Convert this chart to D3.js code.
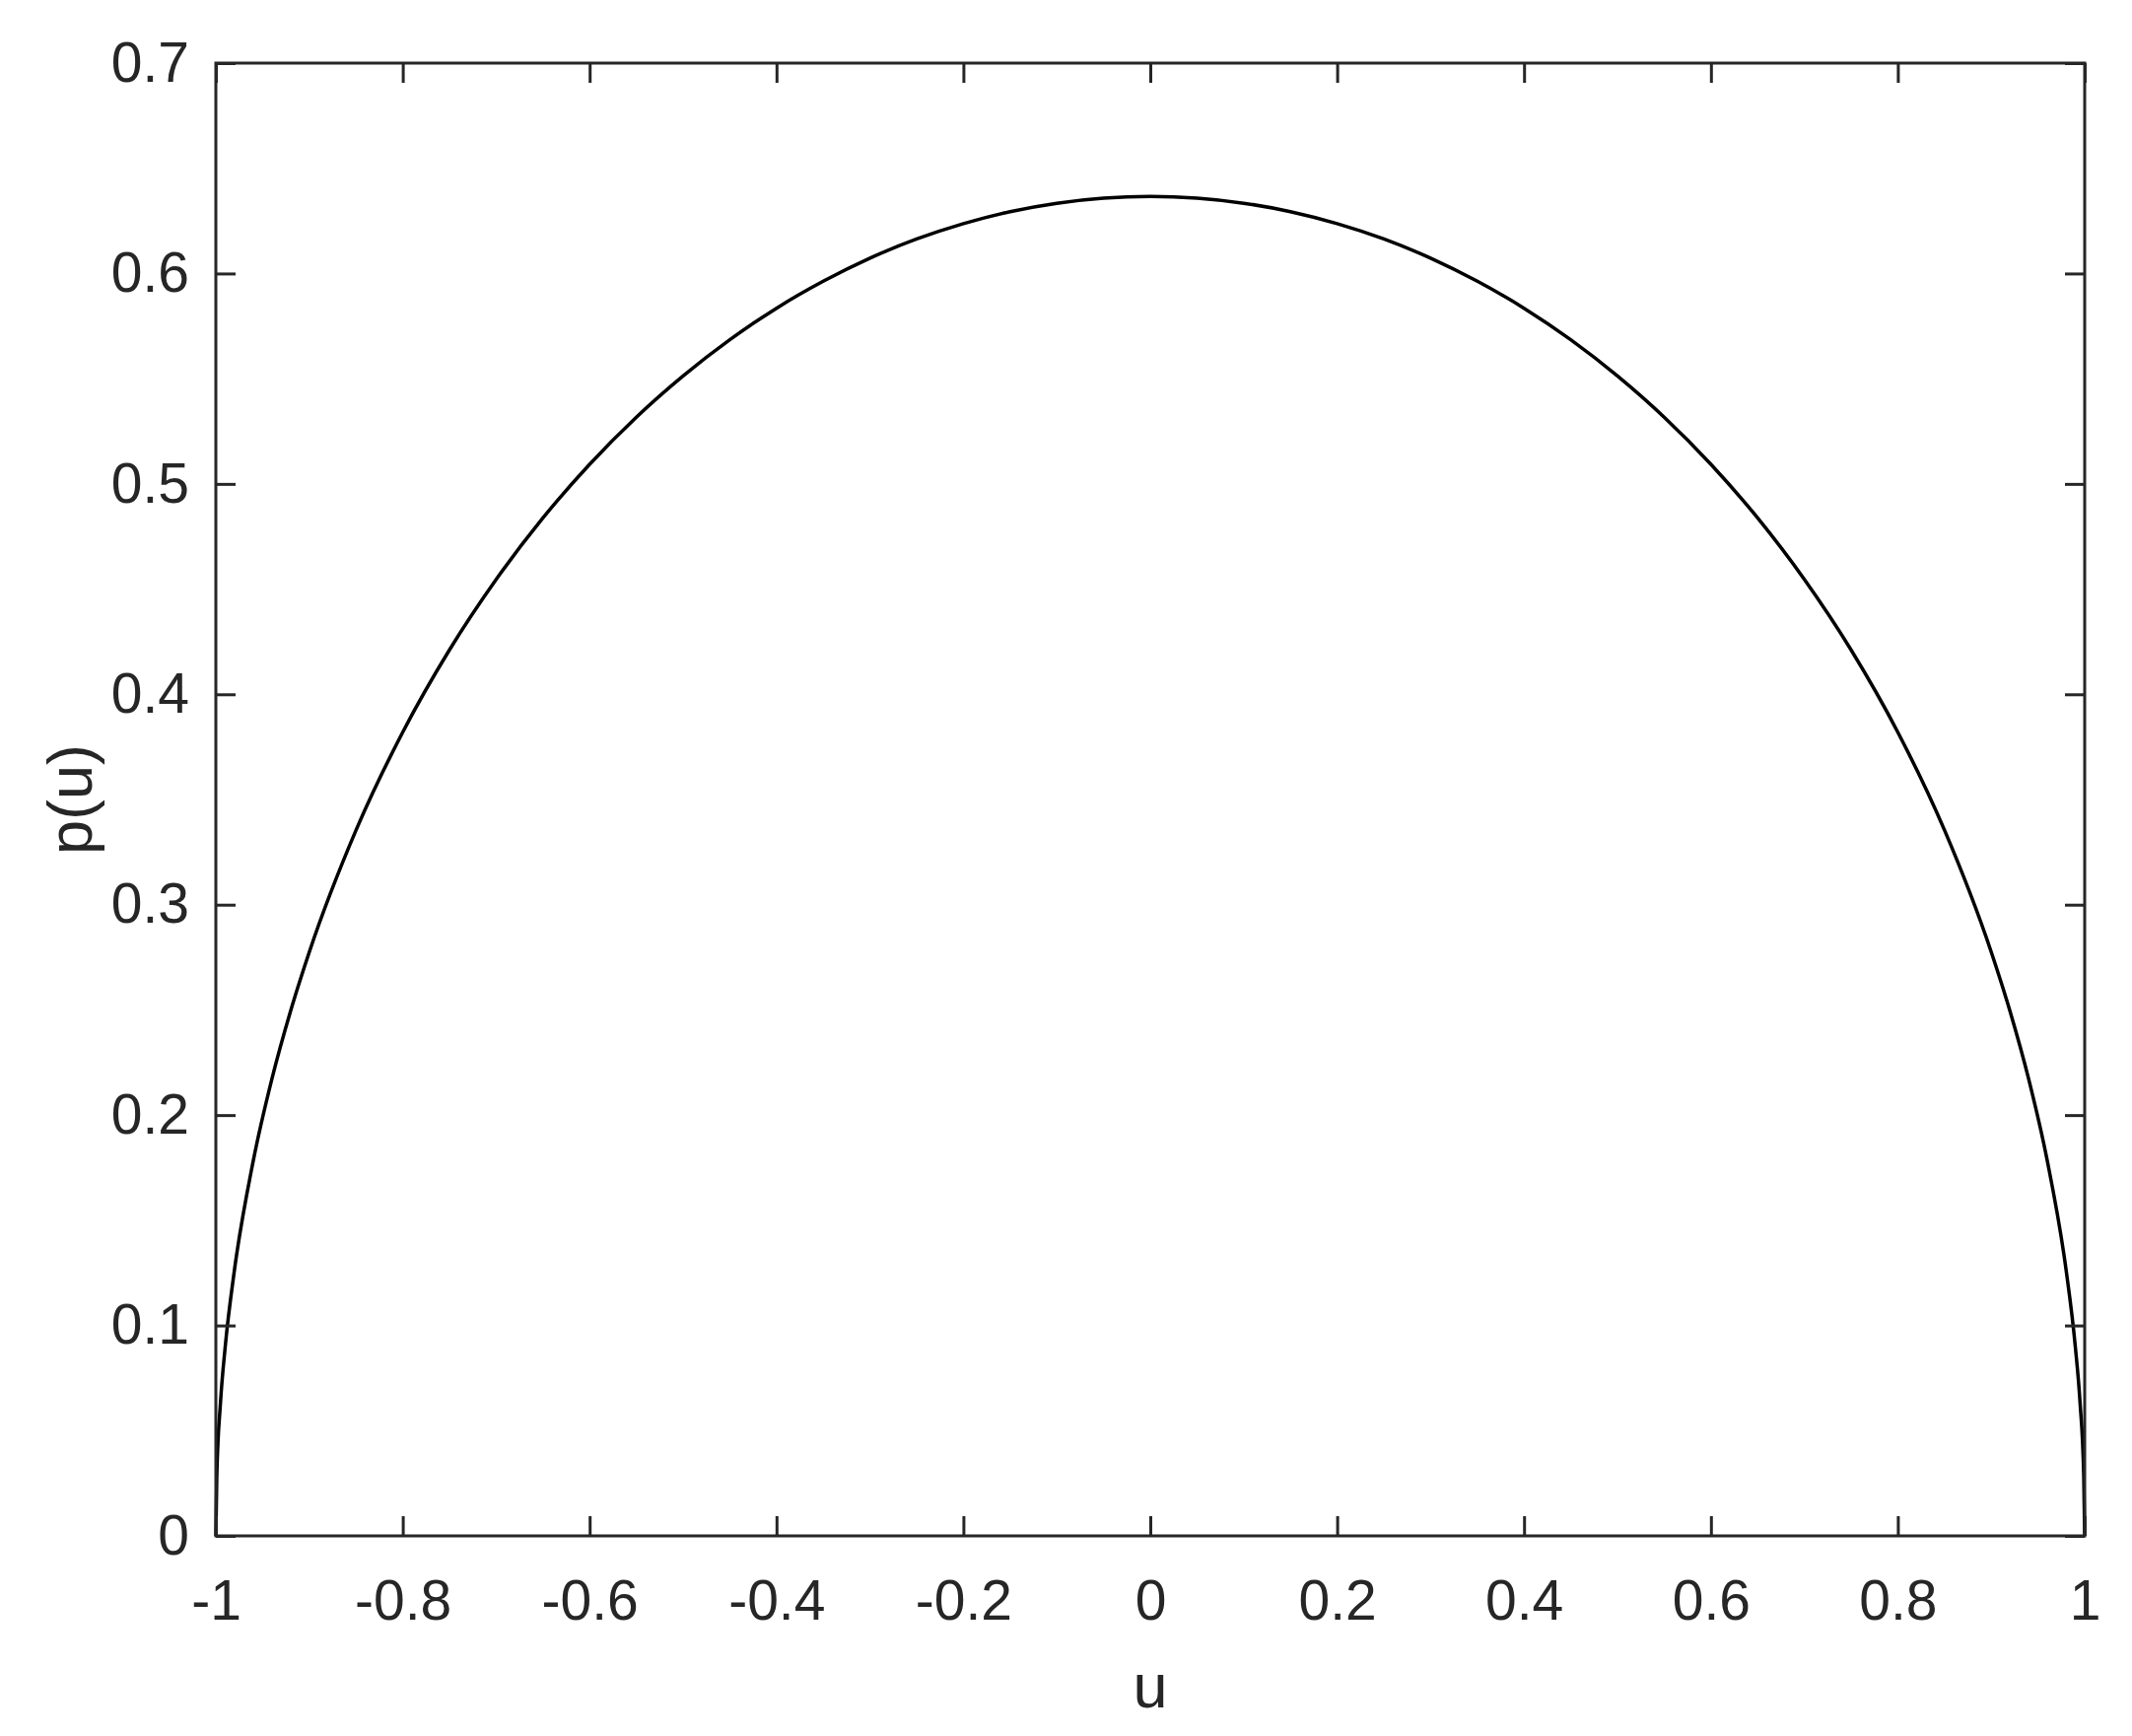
<!DOCTYPE html>
<html>
<head>
<meta charset="utf-8">
<script src="https://cdn.jsdelivr.net/npm/d3@7"></script>
<style>
  body { margin: 0; background: #fff; }
  svg { display: block; }
  text { font-family: "Liberation Sans", Arial, sans-serif; fill: #262626; }
</style>
</head>
<body>
<svg id="chart"></svg>
<script>
// values (left half, curve is symmetric about u = 0)
var uLeft = [-1, -0.999, -0.995, -0.99, -0.98, -0.96, -0.94, -0.92, -0.9, -0.85,
             -0.8, -0.75, -0.7, -0.65, -0.6, -0.55, -0.5, -0.45, -0.4, -0.35,
             -0.3, -0.25, -0.2, -0.15, -0.1, -0.05, 0];
var pLeft = [0, 0.0285, 0.0636, 0.0898, 0.1267, 0.1782, 0.2172, 0.2495, 0.2775, 0.3354,
             0.3820, 0.4211, 0.4546, 0.4838, 0.5093, 0.5317, 0.5513, 0.5685, 0.5835, 0.5963,
             0.6073, 0.6164, 0.6237, 0.6294, 0.6334, 0.6358, 0.6366];

var xTicks = [-1, -0.8, -0.6, -0.4, -0.2, 0, 0.2, 0.4, 0.6, 0.8, 1];
var yTicks = [0, 0.1, 0.2, 0.3, 0.4, 0.5, 0.6, 0.7];

// mirror the left half to the right
var points = uLeft.map(function(u, i) { return {u: u, p: pLeft[i]}; });
for (var i = uLeft.length - 2; i >= 0; i--) {
    points.push({u: -uLeft[i], p: pLeft[i]});
}

var screen = {width: 2163, height: 1761};
var margins = {top: 64, bottom: 203, left: 219, right: 48};
var graph = {
    width: screen.width - margins.left - margins.right,
    height: screen.height - margins.top - margins.bottom
};

var xScale = d3.scaleLinear().domain([-1, 1]).range([0, graph.width]);
var yScale = d3.scaleLinear().domain([0, 0.7]).range([graph.height, 0]);

var svg = d3.select("#chart")
    .attr("width", screen.width)
    .attr("height", screen.height);

var g = svg.append("g")
    .attr("transform", "translate(" + margins.left + "," + margins.top + ")");

var axisColor = "#262626";
var tickLen = 20;
// plain hyphen for negatives, like the original
var fmt = function(d) { return String(d); };

// curve
var line = d3.line()
    .x(function(d) { return xScale(d.u); })
    .y(function(d) { return yScale(d.p); })
    .curve(d3.curveMonotoneX);

g.append("path")
    .datum(points)
    .attr("d", line)
    .attr("fill", "none")
    .attr("stroke", "#000")
    .attr("stroke-width", 3.5)
    .attr("stroke-linejoin", "round");

// axes: bottom and left with labels, top and right mirrored ticks only
var styleAxis = function(sel) {
    sel.select(".domain").remove();
    sel.selectAll(".tick line").attr("stroke", axisColor).attr("stroke-width", 3);
    sel.selectAll(".tick text").style("font-size", "57px").attr("fill", axisColor);
};

g.append("g")
    .attr("transform", "translate(0," + graph.height + ")")
    .call(d3.axisBottom(xScale).tickValues(xTicks).tickSizeInner(-tickLen).tickPadding(45)
        .tickFormat(fmt))
    .call(styleAxis);

g.append("g")
    .call(d3.axisTop(xScale).tickValues(xTicks).tickSizeInner(-tickLen).tickFormat(""))
    .call(styleAxis);

g.append("g")
    .call(d3.axisLeft(yScale).tickValues(yTicks).tickSizeInner(-tickLen).tickPadding(27)
        .tickFormat(fmt))
    .call(styleAxis);

g.append("g")
    .attr("transform", "translate(" + graph.width + ",0)")
    .call(d3.axisRight(yScale).tickValues(yTicks).tickSizeInner(-tickLen).tickFormat(""))
    .call(styleAxis);

// frame
g.append("rect")
    .attr("width", graph.width)
    .attr("height", graph.height)
    .attr("fill", "none")
    .attr("stroke", axisColor)
    .attr("stroke-width", 3);

// axis labels
svg.append("text")
    .attr("x", margins.left + graph.width / 2)
    .attr("y", 1732)
    .attr("text-anchor", "middle")
    .style("font-size", "63px")
    .text("u");

svg.append("text")
    .attr("transform", "translate(93," + (margins.top + graph.height / 2) + ") rotate(-90)")
    .attr("text-anchor", "middle")
    .style("font-size", "63px")
    .text("p(u)");
</script>
</body>
</html>
